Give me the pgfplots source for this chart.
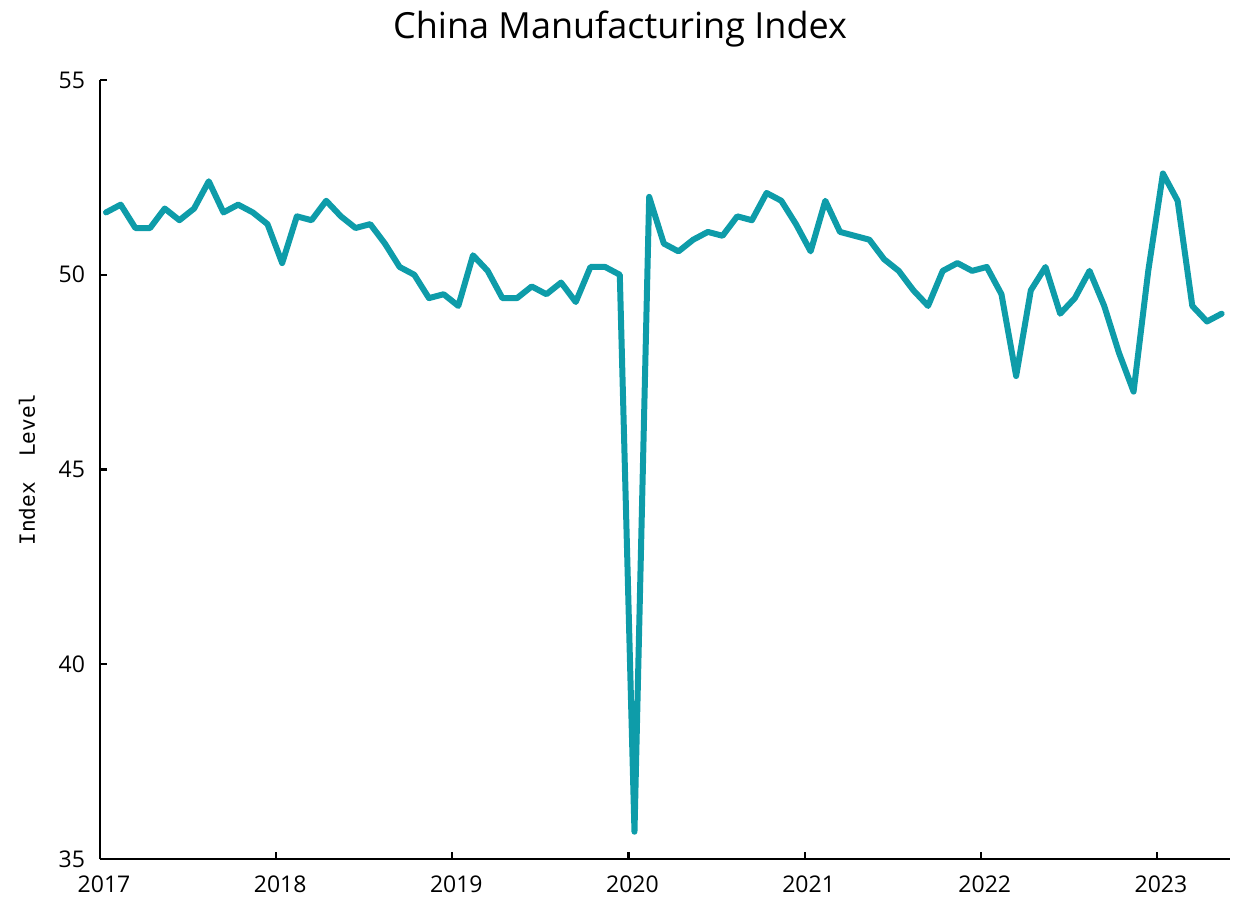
\documentclass[border=0pt]{standalone}
\usepackage{fontspec}
\setmainfont{Open Sans}
\newfontfamily\monofont{DejaVu Sans Mono}
\usepackage{pgfplots}
\pgfplotsset{compat=1.18}
\definecolor{teal1}{HTML}{0E9CA9}
\begin{document}
\begin{tikzpicture}[x=1pt,y=1pt]
\path[use as bounding box] (-50pt,-21.5pt) rectangle (567.5pt,429.5pt);
\begin{axis}[
  at={(0pt,0pt)}, anchor=south west,
  scale only axis, width=565pt, height=389.5pt,
  xmin=-0.41, xmax=76.57, ymin=35, ymax=55,
  axis x line*=bottom, axis y line*=left,
  axis line style={line width=1.3pt, -},
  xtick={-0.41,11.59,23.59,35.59,47.59,59.59,71.59},
  xticklabels={2017,2018,2019,2020,2021,2022,2023},
  ytick={35,40,45,50,55},
  tick style={line width=1.1pt, black},
  major tick length=3.5pt,
  tick align=inside,
  /pgf/number format/assume math mode=true,
  tick label style={font=\fontsize{11.5pt}{13pt}\selectfont},
  xticklabel style={yshift=-5pt, xshift=2pt},
  yticklabel style={xshift=-4pt},
  ylabel={\monofont Index\ \ Level},
  ylabel style={font=\fontsize{10.5pt}{12pt}\selectfont, at={(-36.5pt,194.75pt)}, anchor=center},
  title={China Manufacturing Index},
  title style={font=\fontsize{18pt}{21pt}\selectfont, at={(260pt,404pt)}, anchor=base},
  clip=false,
]
\addplot[teal1, line width=3pt, line join=round, line cap=round] coordinates {
(0,51.6)(1,51.8)(2,51.2)(3,51.2)(4,51.7)(5,51.4)(6,51.7)(7,52.4)(8,51.6)(9,51.8)(10,51.6)
(11,51.3)(12,50.3)(13,51.5)(14,51.4)(15,51.9)(16,51.5)(17,51.2)(18,51.3)(19,50.8)(20,50.2)(21,50.0)(22,49.4)
(23,49.5)(24,49.2)(25,50.5)(26,50.1)(27,49.4)(28,49.4)(29,49.7)(30,49.5)(31,49.8)(32,49.3)(33,50.2)(34,50.2)
(35,50.0)(36,35.7)(37,52.0)(38,50.8)(39,50.6)(40,50.9)(41,51.1)(42,51.0)(43,51.5)(44,51.4)(45,52.1)(46,51.9)
(47,51.3)(48,50.6)(49,51.9)(50,51.1)(51,51.0)(52,50.9)(53,50.4)(54,50.1)(55,49.6)(56,49.2)(57,50.1)(58,50.3)
(59,50.1)(60,50.2)(61,49.5)(62,47.4)(63,49.6)(64,50.2)(65,49.0)(66,49.4)(67,50.1)(68,49.2)(69,48.0)(70,47.0)
(71,50.1)(72,52.6)(73,51.9)(74,49.2)(75,48.8)(76,49.0)
};
\end{axis}
\end{tikzpicture}
\end{document}
